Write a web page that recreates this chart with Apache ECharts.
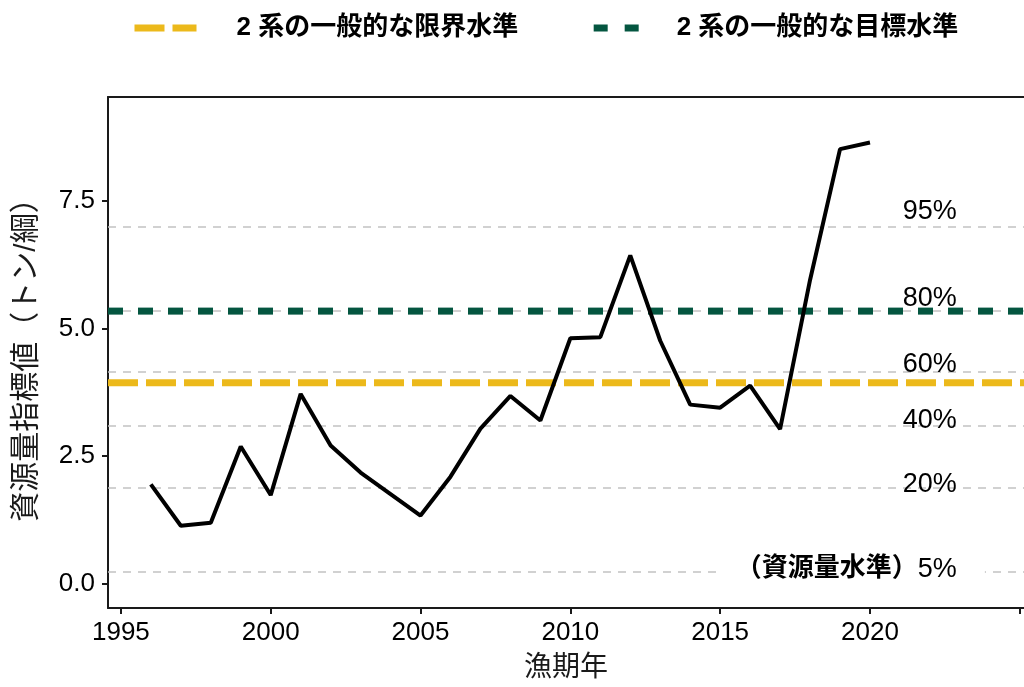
<!DOCTYPE html>
<html>
<head>
<meta charset="utf-8">
<script src="https://cdn.jsdelivr.net/npm/echarts@6/dist/echarts.min.js"></script>
<style>
html, body { margin: 0; padding: 0; background: #fff; }
#chart { width: 1024px; height: 687px; }
</style>
</head>
<body>
<div id="chart"></div>
<script>
// 資源量指標値の推移
const years = [1996, 1997, 1998, 1999, 2000, 2001, 2002, 2003, 2004, 2005, 2006, 2007, 2008,
  2009, 2010, 2011, 2012, 2013, 2014, 2015, 2016, 2017, 2018, 2019, 2020]
const indexValues = [1.95, 1.14, 1.20, 2.69, 1.74, 3.72, 2.71, 2.18, 1.76, 1.34, 2.10, 3.04, 3.68,
  3.20, 4.81, 4.83, 6.43, 4.76, 3.51, 3.45, 3.88, 3.03, 5.95, 8.51, 8.64]

// 管理基準
const limitName = '2 系の一般的な限界水準'
const targetName = '2 系の一般的な目標水準'
const limitLevel = 3.94
const targetLevel = 5.34

// 資源量水準（パーセンタイル）
const pctNames = ['95%', '80%', '60%', '40%', '20%', '5%']
const pctValues = [7.00, 5.34, 4.16, 3.09, 1.88, 0.24]
const pctLabelY = [7.29, 5.59, 4.29, 3.20, 1.95, 0.29]
const pctLabelX = 2022.9

// 軸
const xTicks = [1995, 2000, 2005, 2010, 2015, 2020, 2025]
const xLabels = [1995, 2000, 2005, 2010, 2015, 2020]
const yTicks = [0, 2.5, 5, 7.5]
const xRange = [1994.57, 2025.14]
const yRange = [-0.47, 9.53]

const FONT = '"Liberation Sans", Arial, "Noto Sans CJK JP", sans-serif'
const AXIS_COLOR = '#1a1a1a'

const chart = echarts.init(document.getElementById('chart'))

const pctLabelData = pctNames.map(function (name, i) {
  const item = { name: name, value: [pctLabelX, pctLabelY[i]] }
  if (name === '5%') {
    item.label = {
      formatter: '{b|（資源量水準）}5%',
      backgroundColor: '#fff',
      padding: [2, 28, 2, 16],
      distance: -28
    }
  }
  return item
})

const option = {
  animation: false,
  textStyle: { fontFamily: FONT },
  legend: {
    left: 126,
    top: 10,
    itemWidth: 62,
    itemHeight: 7,
    itemGap: 72,
    textStyle: { fontSize: 26, fontWeight: 'bold', color: '#000', fontFamily: FONT },
    data: [
      {
        name: limitName,
        itemStyle: { opacity: 0 },
        lineStyle: { width: 7, type: [30, 8] },
        textStyle: { padding: [0, 0, 0, 35] }
      },
      {
        name: targetName,
        itemStyle: { opacity: 0 },
        lineStyle: { width: 7, type: [14, 17] },
        textStyle: { padding: [0, 0, 0, 16] }
      }
    ]
  },
  grid: { left: 108, right: 0, top: 97, bottom: 77, containLabel: false },
  xAxis: [
    {
      type: 'value',
      min: xRange[0],
      max: xRange[1],
      name: '漁期年',
      nameLocation: 'middle',
      nameGap: 46,
      nameTextStyle: { fontSize: 28, color: '#1a1a1a', fontFamily: FONT },
      axisLine: { show: true, onZero: false, lineStyle: { color: AXIS_COLOR, width: 2 } },
      axisTick: { show: true, length: 6, customValues: xTicks, lineStyle: { color: AXIS_COLOR, width: 2 } },
      axisLabel: {
        customValues: xLabels,
        fontSize: 26,
        color: '#000',
        margin: 12,
        fontFamily: FONT,
        formatter: function (v) { return String(v) }
      },
      splitLine: { show: false }
    },
    {
      type: 'value',
      position: 'top',
      min: xRange[0],
      max: xRange[1],
      axisLine: { show: true, onZero: false, lineStyle: { color: AXIS_COLOR, width: 2 } },
      axisTick: { show: false },
      axisLabel: { show: false },
      splitLine: { show: false }
    }
  ],
  yAxis: {
    type: 'value',
    min: yRange[0],
    max: yRange[1],
    name: '資源量指標値（トン/綱）',
    nameLocation: 'middle',
    nameGap: 66,
    nameTextStyle: { fontSize: 30, color: '#1a1a1a', fontFamily: FONT },
    axisLine: { show: true, onZero: false, lineStyle: { color: AXIS_COLOR, width: 2 } },
    axisTick: { show: true, length: 6, customValues: yTicks, lineStyle: { color: AXIS_COLOR, width: 2 } },
    axisLabel: {
      customValues: yTicks,
      fontSize: 26,
      color: '#000',
      margin: 13,
      fontFamily: FONT,
      formatter: function (v) { return v.toFixed(1) }
    },
    splitLine: { show: false }
  },
  series: [
    {
      name: 'percentiles',
      type: 'line',
      data: [],
      z: 1,
      silent: true,
      markLine: {
        z: 1,
        silent: true,
        symbol: ['none', 'none'],
        label: { show: false },
        lineStyle: { color: '#c2c2c2', width: 1.6, type: [8, 7] },
        data: pctValues.map(function (v) { return { yAxis: v } })
      }
    },
    {
      name: 'pctLabels',
      type: 'scatter',
      symbolSize: 0,
      z: 2,
      silent: true,
      itemStyle: { opacity: 1 },
      data: pctLabelData,
      label: {
        show: true,
        position: 'left',
        distance: 0,
        formatter: '{b}',
        fontSize: 27,
        color: '#000',
        fontFamily: FONT,
        rich: {
          b: { fontSize: 26, fontWeight: 'bold', color: '#000', fontFamily: FONT }
        }
      }
    },
    {
      name: limitName,
      type: 'line',
      z: 3,
      symbol: 'none',
      silent: true,
      data: [[xRange[0], limitLevel], [xRange[1], limitLevel]],
      lineStyle: { color: '#ecb91b', width: 7, type: [30, 8] }
    },
    {
      name: targetName,
      type: 'line',
      z: 3,
      symbol: 'none',
      silent: true,
      data: [[xRange[0], targetLevel], [xRange[1], targetLevel]],
      lineStyle: { color: '#045640', width: 7, type: [15, 15] }
    },
    {
      name: 'index',
      type: 'line',
      z: 4,
      symbol: 'none',
      silent: true,
      data: years.map(function (y, i) { return [y, indexValues[i]] }),
      lineStyle: { color: '#000', width: 4 }
    }
  ]
}

chart.setOption(option)
</script>
</body>
</html>
